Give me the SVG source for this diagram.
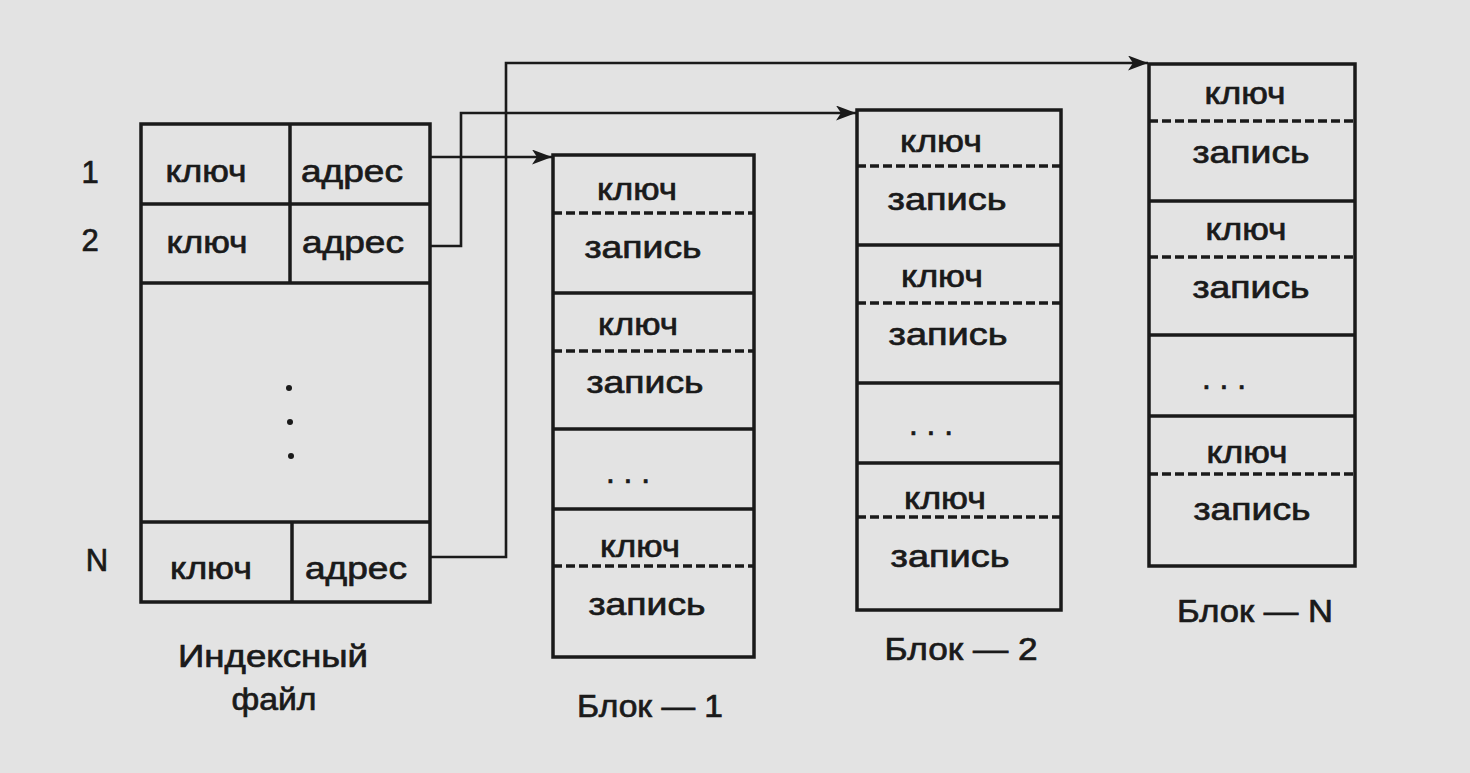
<svg xmlns="http://www.w3.org/2000/svg" width="1470" height="773" viewBox="0 0 1470 773">
<defs>
<style>
.bg{fill:#e3e3e3}
.box{fill:none;stroke:#1a1a1a;stroke-width:3.5}
.sol{stroke:#1a1a1a;stroke-width:3.5}
.dash{stroke:#1a1a1a;stroke-width:3.5;stroke-dasharray:9 4}
.con{fill:none;stroke:#1a1a1a;stroke-width:2.6}
text{font-family:"Liberation Sans",Arial,sans-serif;font-size:31px;fill:#1a1a1a;stroke:#1a1a1a;stroke-width:0.7;text-anchor:middle}
.dot{fill:#1a1a1a}
</style>
<marker id="arr" markerUnits="userSpaceOnUse" markerWidth="22" markerHeight="16" refX="20" refY="7.5" orient="auto">
<path d="M0,0 L20,7.5 L0,15 L5,7.5 z" fill="#1a1a1a"/>
</marker>
</defs>
<rect class="bg" x="0" y="0" width="1470" height="773"/>

<g id="connectors">
<path class="con" d="M430,157 H552" marker-end="url(#arr)"/>
<path class="con" d="M430,246 H461 V113 H856" marker-end="url(#arr)"/>
<path class="con" d="M430,557 H506 V63 H1148" marker-end="url(#arr)"/>
</g>

<g id="index-file">
<rect class="box" x="141" y="124" width="289" height="478"/>
<line class="sol" x1="141" y1="204" x2="430" y2="204"/>
<line class="sol" x1="141" y1="283" x2="430" y2="283"/>
<line class="sol" x1="141" y1="522" x2="430" y2="522"/>
<line class="sol" x1="290" y1="124" x2="290" y2="283"/>
<line class="sol" x1="292" y1="522" x2="292" y2="602"/>
<text x="90" y="183" font-size="30">1</text>
<text x="90" y="251" font-size="30">2</text>
<text x="97" y="571" font-size="30">N</text>
<text x="206" y="182" textLength="81" lengthAdjust="spacingAndGlyphs">ключ</text>
<text x="352" y="182" textLength="102" lengthAdjust="spacingAndGlyphs">адрес</text>
<text x="207" y="253" textLength="81" lengthAdjust="spacingAndGlyphs">ключ</text>
<text x="353" y="253" textLength="102" lengthAdjust="spacingAndGlyphs">адрес</text>
<circle class="dot" cx="289" cy="388" r="3"/>
<circle class="dot" cx="290" cy="422" r="3"/>
<circle class="dot" cx="291" cy="456" r="3"/>
<text x="211" y="579" textLength="82" lengthAdjust="spacingAndGlyphs">ключ</text>
<text x="356" y="579" textLength="102" lengthAdjust="spacingAndGlyphs">адрес</text>
<text x="273" y="667" textLength="190" lengthAdjust="spacingAndGlyphs">Индексный</text>
<text x="274" y="710" textLength="85" lengthAdjust="spacingAndGlyphs">файл</text>
</g>

<g id="block-1">
<rect class="box" x="553" y="155" width="201" height="502"/>
<line class="dash" x1="553" y1="213" x2="754" y2="213"/>
<line class="sol" x1="553" y1="293" x2="754" y2="293"/>
<line class="dash" x1="553" y1="351" x2="754" y2="351"/>
<line class="sol" x1="553" y1="429" x2="754" y2="429"/>
<line class="sol" x1="553" y1="509" x2="754" y2="509"/>
<line class="dash" x1="553" y1="566" x2="754" y2="566"/>
<text x="637" y="200" textLength="80" lengthAdjust="spacingAndGlyphs">ключ</text>
<text x="643" y="258" textLength="117" lengthAdjust="spacingAndGlyphs">запись</text>
<text x="638" y="335" textLength="80" lengthAdjust="spacingAndGlyphs">ключ</text>
<text x="645" y="393" textLength="117" lengthAdjust="spacingAndGlyphs">запись</text>
<text x="628" y="483" textLength="44" lengthAdjust="spacingAndGlyphs" stroke-width="1.4">. . .</text>
<text x="640" y="557" textLength="80" lengthAdjust="spacingAndGlyphs">ключ</text>
<text x="647" y="615" textLength="117" lengthAdjust="spacingAndGlyphs">запись</text>
<text x="650" y="717" textLength="146" lengthAdjust="spacingAndGlyphs">Блок — 1</text>
</g>

<g id="block-2">
<rect class="box" x="857" y="110" width="204" height="500"/>
<line class="dash" x1="857" y1="166" x2="1061" y2="166"/>
<line class="sol" x1="857" y1="245" x2="1061" y2="245"/>
<line class="dash" x1="857" y1="303" x2="1061" y2="303"/>
<line class="sol" x1="857" y1="383" x2="1061" y2="383"/>
<line class="sol" x1="857" y1="463" x2="1061" y2="463"/>
<line class="dash" x1="857" y1="517" x2="1061" y2="517"/>
<text x="941" y="152" textLength="82" lengthAdjust="spacingAndGlyphs">ключ</text>
<text x="947" y="210" textLength="119" lengthAdjust="spacingAndGlyphs">запись</text>
<text x="942" y="287" textLength="82" lengthAdjust="spacingAndGlyphs">ключ</text>
<text x="948" y="345" textLength="119" lengthAdjust="spacingAndGlyphs">запись</text>
<text x="931" y="435" textLength="44" lengthAdjust="spacingAndGlyphs" stroke-width="1.4">. . .</text>
<text x="945" y="509" textLength="82" lengthAdjust="spacingAndGlyphs">ключ</text>
<text x="950" y="567" textLength="119" lengthAdjust="spacingAndGlyphs">запись</text>
<text x="961" y="660" textLength="153" lengthAdjust="spacingAndGlyphs">Блок — 2</text>
</g>

<g id="block-n">
<rect class="box" x="1149" y="64" width="206" height="502"/>
<line class="dash" x1="1149" y1="121" x2="1355" y2="121"/>
<line class="sol" x1="1149" y1="201" x2="1355" y2="201"/>
<line class="dash" x1="1149" y1="257" x2="1355" y2="257"/>
<line class="sol" x1="1149" y1="335" x2="1355" y2="335"/>
<line class="sol" x1="1149" y1="416" x2="1355" y2="416"/>
<line class="dash" x1="1149" y1="474" x2="1355" y2="474"/>
<text x="1245" y="104" textLength="81" lengthAdjust="spacingAndGlyphs">ключ</text>
<text x="1251" y="163" textLength="117" lengthAdjust="spacingAndGlyphs">запись</text>
<text x="1246" y="240" textLength="81" lengthAdjust="spacingAndGlyphs">ключ</text>
<text x="1251" y="298" textLength="117" lengthAdjust="spacingAndGlyphs">запись</text>
<text x="1224" y="389" textLength="44" lengthAdjust="spacingAndGlyphs" stroke-width="1.4">. . .</text>
<text x="1247" y="463" textLength="81" lengthAdjust="spacingAndGlyphs">ключ</text>
<text x="1252" y="520" textLength="117" lengthAdjust="spacingAndGlyphs">запись</text>
<text x="1255" y="622" textLength="156" lengthAdjust="spacingAndGlyphs">Блок — N</text>
</g>
</svg>
